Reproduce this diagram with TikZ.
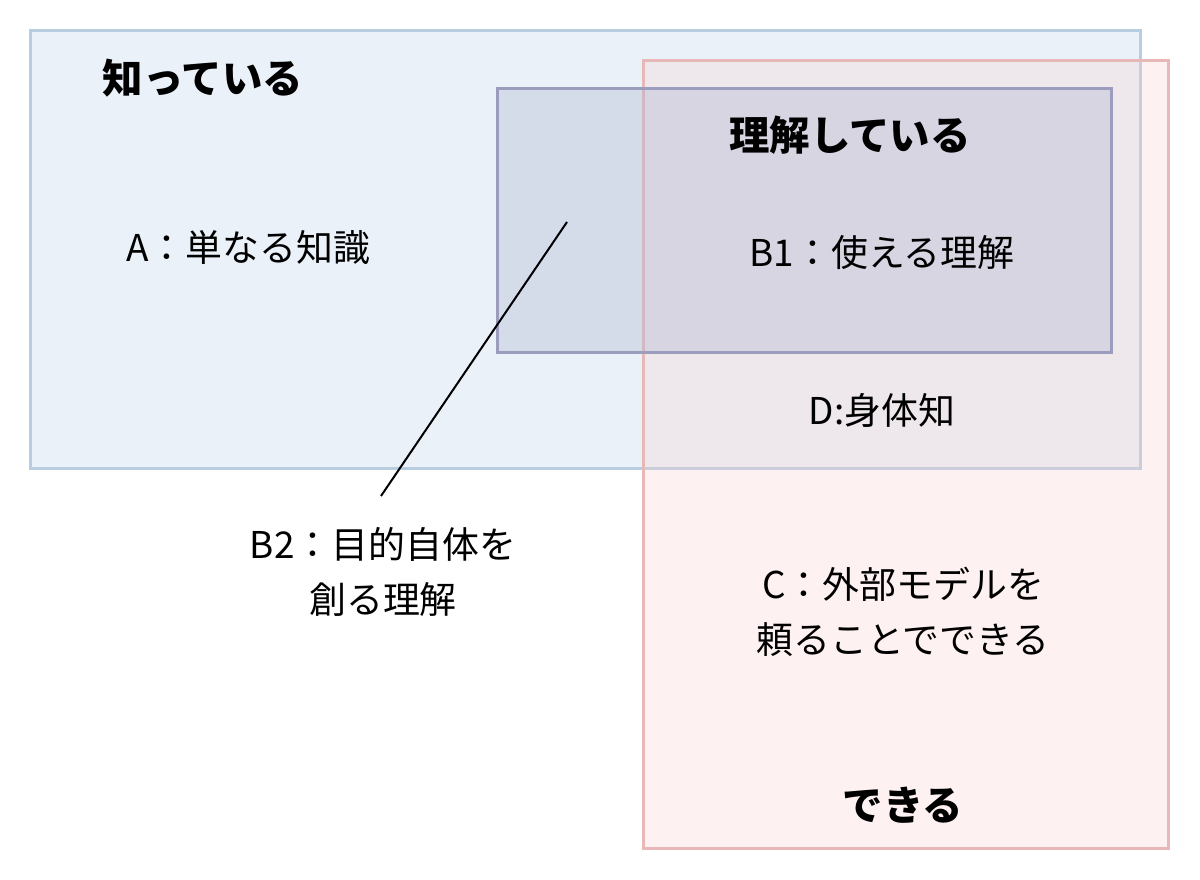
\documentclass[tikz,border=0pt]{standalone}
\usepackage{fontspec}
\setmainfont{Noto Sans CJK JP}
\usepackage{xcolor}
\usetikzlibrary{positioning}
\definecolor{knowfill}{HTML}{EAF1F8}
\definecolor{knowline}{HTML}{B9CDE0}
\definecolor{canfill}{HTML}{FAD0D0}
\definecolor{canline}{HTML}{E8B8B8}
\definecolor{gotfill}{HTML}{B4BAD4}
\definecolor{gotline}{HTML}{9C9CBC}
\tikzset{
  area/.style={line width=0.06cm},
  label/.style={font=\fontsize{21}{31}\selectfont, align=center},
  title/.style={font=\fontsize{23}{28}\selectfont\bfseries}
}
\begin{document}
\begin{tikzpicture}[x=0.02cm, y=-0.02cm]
    \useasboundingbox (0, 0) rectangle (1200, 879);

    \filldraw [area, fill=knowfill, draw=knowline] (30, 30) rectangle (1140, 468);
    \filldraw [area, fill=canfill, fill opacity=0.3, draw=canline] (643, 60) rectangle (1168, 848);
    \filldraw [area, fill=gotfill, fill opacity=0.4, draw=gotline] (497, 88) rectangle (1111, 352);

    \node [title] (know) at (203, 78) {知っている};
    \node [title] (got) at (850, 135) {理解している};
    \node [title] (can) at (903, 805) {できる};

    \node [label] (A) at (248, 248) {A：単なる知識};
    \node [label] (B1) at (882, 253) {B1：使える理解};
    \node [label] (D) at (882, 410) {D:身体知};
    \node [label] (B2) at (383, 572) {B2：目的自体を\\創る理解};
    \node [label] (C) at (903, 612) {C：外部モデルを\\頼ることでできる};

    \coordinate (tip) at (567, 222);
    \coordinate (foot) at (381, 496);
    \draw [line width=0.04cm] (foot) -- (tip);
\end{tikzpicture}
\end{document}
